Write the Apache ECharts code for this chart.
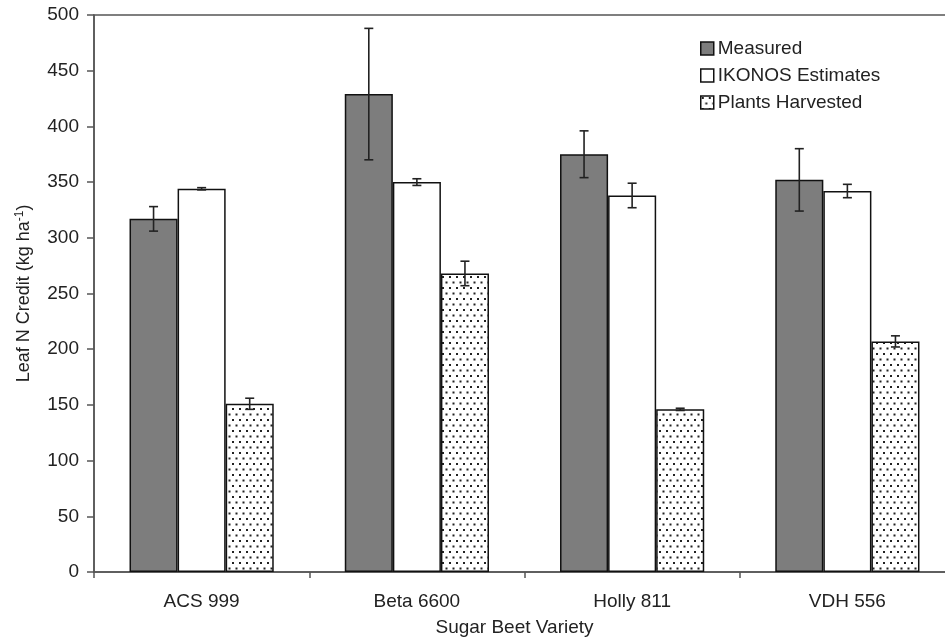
<!doctype html>
<html>
<head>
<meta charset="utf-8">
<title>Leaf N Credit</title>
<script src="https://cdn.jsdelivr.net/npm/echarts@6/dist/echarts.min.js"></script>
<style>
  html, body { margin: 0; padding: 0; background: #fff; }
  #chart { width: 945px; height: 639px; }
</style>
</head>
<body>
<div id="chart"></div>
<script>
// data
var varieties = ['ACS 999', 'Beta 6600', 'Holly 811', 'VDH 556'];
var seriesNames = ['Measured', 'IKONOS Estimates', 'Plants Harvested'];
var measured = [317, 429, 375, 352];
var measuredErr = [11, 59, 21, 28];
var ikonos = [344, 350, 338, 342];
var ikonosErr = [1, 3, 11, 6];
var harvested = [151, 268, 146, 207];
var harvestedErr = [5, 11, 1, 5];
var yTicks = [0, 50, 100, 150, 200, 250, 300, 350, 400, 450, 500];

// dotted fill for the harvested bars
function dotPattern() {
    var c = document.createElement('canvas');
    c.width = 7; c.height = 11;
    var ctx = c.getContext('2d');
    ctx.fillStyle = '#fff';
    ctx.fillRect(0, 0, 7, 11);
    ctx.fillStyle = '#222';
    ctx.fillRect(1, 1, 2, 2);
    ctx.fillRect(4.5, 6.5, 2, 2);
    return { image: c, repeat: 'repeat' };
}

var catGap = 0.33;
var values = [measured, ikonos, harvested];
var errs = [measuredErr, ikonosErr, harvestedErr];
var fills = ['#7d7d7d', '#ffffff', dotPattern()];

var series = [];
for (var i = 0; i < 3; i++) {
    series.push({
        name: seriesNames[i],
        type: 'bar',
        data: values[i],
        barGap: '0%',
        barCategoryGap: (catGap * 100) + '%',
        itemStyle: { color: fills[i], borderColor: '#111', borderWidth: 1.5 }
    });
}

// error bars
for (var k = 0; k < 3; k++) {
    (function (idx) {
        var rows = values[idx].map(function (v, j) { return [j, v - errs[idx][j], v + errs[idx][j]]; });
        series.push({
            type: 'custom',
            z: 5,
            silent: true,
            data: rows,
            encode: { x: 0, y: [1, 2] },
            renderItem: function (params, api) {
                var band = api.size([1, 0])[0];
                var bw = band * (1 - catGap) / 3;
                var off = (idx - 1) * bw;
                var lo = api.coord([api.value(0), api.value(1)]);
                var hi = api.coord([api.value(0), api.value(2)]);
                var x = lo[0] + off;
                var cap = 4.5;
                var st = { stroke: '#222', lineWidth: 1.6 };
                return {
                    type: 'group',
                    children: [
                        { type: 'line', shape: { x1: x, y1: lo[1], x2: x, y2: hi[1] }, style: st },
                        { type: 'line', shape: { x1: x - cap, y1: lo[1], x2: x + cap, y2: lo[1] }, style: st },
                        { type: 'line', shape: { x1: x - cap, y1: hi[1], x2: x + cap, y2: hi[1] }, style: st }
                    ]
                };
            }
        });
    })(k);
}

var chart = echarts.init(document.getElementById('chart'));
chart.setOption({
    animation: false,
    textStyle: { fontFamily: 'Liberation Sans, Arial, sans-serif' },
    grid: {
        left: 94, top: 15, width: 861, bottom: 67,
        outerBoundsMode: 'none',
        containLabel: false,
        show: true, borderColor: '#555', borderWidth: 1.5, backgroundColor: 'transparent'
    },
    legend: {
        orient: 'vertical',
        left: 695, top: 34,
        itemWidth: 13, itemHeight: 13, itemGap: 8,
        icon: 'rect',
        data: seriesNames,
        itemStyle: { borderColor: '#111', borderWidth: 1.5 },
        textStyle: { fontSize: 19, lineHeight: 19, color: '#222', padding: [0, 0, 0, -1] }
    },
    xAxis: {
        type: 'category',
        data: varieties,
        name: 'Sugar Beet Variety',
        nameLocation: 'middle',
        nameGap: 46,
        nameTextStyle: { fontSize: 19, color: '#222', padding: [0, 20, 0, 0] },
        axisLine: { lineStyle: { color: '#555', width: 1.5 } },
        axisTick: { show: true, inside: false, length: 6, lineStyle: { color: '#555', width: 1.5 } },
        axisLabel: { fontSize: 19, color: '#222', margin: 20 }
    },
    yAxis: {
        type: 'value',
        min: yTicks[0],
        max: yTicks[yTicks.length - 1],
        interval: 50,
        name: '{n|Leaf N Credit (kg ha}{s|-1}{n|)}',
        nameLocation: 'middle',
        nameGap: 60,
        nameRotate: 90,
        nameTextStyle: {
            rich: {
                n: { fontSize: 18, color: '#222' },
                s: { fontSize: 12, color: '#222', padding: [0, 0, 8, 0] }
            }
        },
        splitLine: { show: false },
        axisLine: { show: true, lineStyle: { color: '#555', width: 1.5 } },
        axisTick: { show: true, inside: false, length: 7, lineStyle: { color: '#555', width: 1.5 } },
        axisLabel: { fontSize: 19, color: '#222', margin: 15 }
    },
    series: series
});
</script>
</body>
</html>
